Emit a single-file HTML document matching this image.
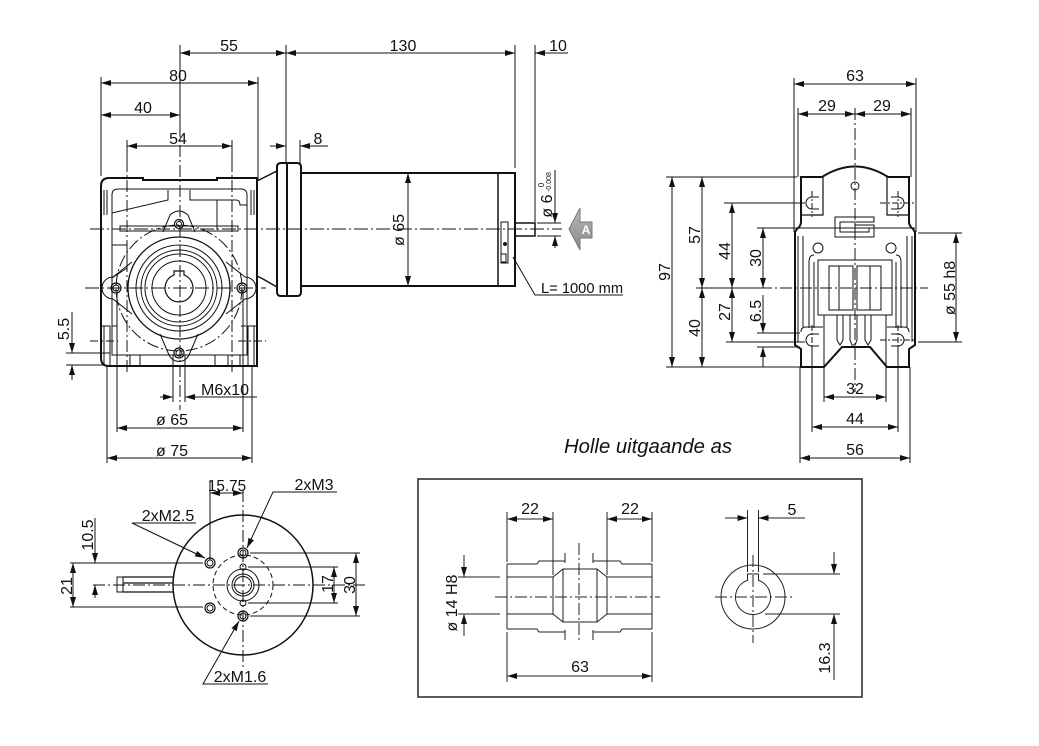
<!DOCTYPE html>
<html><head><meta charset="utf-8"><style>
html,body{margin:0;padding:0;background:#fff;}
svg{display:block;}
text{font-family:"Liberation Sans",Arial,sans-serif;fill:#111;}
</style></head><body>
<svg width="1039" height="746" viewBox="0 0 1039 746" xmlns="http://www.w3.org/2000/svg">
<defs>
<marker id="a" viewBox="0 0 10 6" refX="10" refY="3" markerWidth="10" markerHeight="6" markerUnits="userSpaceOnUse" orient="auto-start-reverse"><path d="M0,0L10,3L0,6z" fill="#111"/></marker>
<linearGradient id="g" x1="0" y1="0" x2="0" y2="1"><stop offset="0" stop-color="#b8b8b8"/><stop offset="1" stop-color="#8a8a8a"/></linearGradient>
</defs>
<rect width="1039" height="746" fill="#fff"/>

<!-- ========== MAIN VIEW ========== -->
<g stroke="#111" stroke-width="1" fill="none">
<line x1="180" y1="53" x2="286" y2="53" marker-start="url(#a)" marker-end="url(#a)"/>
<line x1="286" y1="53" x2="515" y2="53" marker-start="url(#a)" marker-end="url(#a)"/>
<line x1="568" y1="53" x2="535" y2="53" marker-end="url(#a)"/>
<line x1="101" y1="83" x2="258" y2="83" marker-start="url(#a)" marker-end="url(#a)"/>
<line x1="101" y1="115" x2="180" y2="115" marker-start="url(#a)" marker-end="url(#a)"/>
<line x1="127" y1="146" x2="232" y2="146" marker-start="url(#a)" marker-end="url(#a)"/>
<line x1="270" y1="146" x2="286" y2="146" marker-end="url(#a)"/>
<line x1="328" y1="146" x2="300" y2="146" marker-end="url(#a)"/>
<line x1="286" y1="45" x2="286" y2="163"/>
<line x1="515" y1="45" x2="515" y2="168"/>
<line x1="535" y1="45" x2="535" y2="222"/>
<line x1="101" y1="77" x2="101" y2="176"/>
<line x1="258" y1="77" x2="258" y2="180"/>
<line x1="300" y1="140" x2="300" y2="163"/>
<line x1="180" y1="45" x2="180" y2="125"/>
<line x1="180" y1="125" x2="180" y2="410" stroke-dasharray="12 3 2 3"/>
<line x1="127" y1="140" x2="127" y2="372" stroke-dasharray="12 3 2 3"/>
<line x1="232" y1="140" x2="232" y2="372" stroke-dasharray="12 3 2 3"/>
<line x1="127" y1="140" x2="127" y2="160"/>
<line x1="232" y1="140" x2="232" y2="160"/>
<line x1="90" y1="229" x2="562" y2="229" stroke-dasharray="14 3 2 3"/>
<line x1="85" y1="288" x2="266" y2="288" stroke-dasharray="14 3 2 3"/>
<line x1="90" y1="341" x2="118" y2="341" stroke-dasharray="8 3 2 3"/>
<line x1="238" y1="341" x2="266" y2="341" stroke-dasharray="8 3 2 3"/>
</g>
<g font-size="16" text-anchor="middle">
<text x="229" y="51">55</text>
<text x="403" y="51">130</text>
<text x="558" y="51">10</text>
<text x="178" y="81">80</text>
<text x="143" y="113">40</text>
<text x="178" y="144">54</text>
<text x="318" y="144">8</text>
</g>

<!-- gearbox body -->
<g stroke="#111" fill="none">
<path d="M101,186 Q101,178 109,178 L143,178 L143,180 L217,180 L217,178 L257,178 L257,366 L109,366 Q101,366 101,358 Z" stroke-width="2"/>
<path d="M112,195 Q112,189 118,189 L241,189 Q247,189 247,195 L247,355 L112,355 Z" stroke-width="1"/>
<path d="M112,213 L168,200 L168,190 M190,190 L190,200 L217,200 L217,230 M217,200 L236,200 Q240,200 240,205 L247,205" stroke-width="1"/>
<path d="M112,245 L127,245 L127,268 L112,278" stroke-width="1"/>
<rect x="120" y="226" width="118" height="5" stroke-width="1"/>
<path d="M163,232 L170,215 Q179,207 188,215 L195,232" stroke-width="1"/>
<path d="M101,326 L110,326 L110,366 M112,326 L117,326 M104,326 L104,366" stroke-width="1"/>
<path d="M257,326 L248,326 L248,366 M246,326 L241,326 M254,326 L254,366" stroke-width="1"/>
<path d="M117,355 L117,366 M130,355 L130,366 M140,355 L140,366 M215,355 L215,366 M228,355 L228,366 M240,355 L240,366" stroke-width="1"/>
<path d="M104,190 L104,215 M107,190 L107,215 M254,190 L254,215 M251,190 L251,215" stroke-width="1"/>
<circle cx="179" cy="288" r="63" stroke-width="1" stroke-dasharray="12 3 2 3"/>
<circle cx="179" cy="288" r="51" stroke-width="1.3"/>
<circle cx="179" cy="288" r="43" stroke-width="1"/>
<circle cx="179" cy="288" r="38" stroke-width="1"/>
<circle cx="179" cy="288" r="34" stroke-width="1"/>
<circle cx="179" cy="288" r="27" stroke-width="1"/>
<path d="M174,274.9 A14,14 0 1 0 184,274.9 L184,271 L174,271 Z" stroke-width="1.2"/>
<path d="M132,262 L113,277 A11,11 0 0 0 113,299 L132,314" stroke-width="1"/>
<path d="M226,262 L245,277 A11,11 0 0 1 245,299 L226,314" stroke-width="1"/>
<path d="M160,334 L169,355 A11,11 0 0 0 189,355 L198,334" stroke-width="1"/>
<circle cx="116" cy="288" r="5" stroke-width="1.2"/><circle cx="116" cy="288" r="3" stroke-width="1"/>
<circle cx="242" cy="288" r="5" stroke-width="1.2"/><circle cx="242" cy="288" r="3" stroke-width="1"/>
<circle cx="179" cy="353" r="5" stroke-width="1.2"/><circle cx="179" cy="353" r="3" stroke-width="1"/>
<circle cx="179" cy="224" r="4.5" stroke-width="1.2"/><circle cx="179" cy="224" r="2.5" stroke-width="1"/>
</g>

<!-- motor -->
<g stroke="#111" fill="none">
<path d="M257,181 L263,178 L277,171 L277,287 L263,279 L257,276" stroke-width="1.5"/>
<path d="M281,163 L297,163 Q301,163 301,167 L301,292 Q301,296 297,296 L281,296 Q277,296 277,292 L277,167 Q277,163 281,163 Z" stroke-width="2"/>
<line x1="287" y1="163" x2="287" y2="296" stroke-width="2"/>
<rect x="301" y="173" width="214" height="113" stroke-width="2"/>
<line x1="498" y1="173" x2="498" y2="286" stroke-width="1.5"/>
<rect x="515" y="223" width="20" height="13" stroke-width="1.5"/>
<rect x="501" y="222" width="7" height="41" stroke-width="1"/>
<rect x="501" y="254" width="5" height="8" stroke-width="1"/>
<line x1="408" y1="173" x2="408" y2="286" stroke-width="1" marker-start="url(#a)" marker-end="url(#a)"/>
<line x1="555" y1="170" x2="555" y2="223" stroke-width="1" marker-end="url(#a)"/>
<line x1="555" y1="248" x2="555" y2="236" stroke-width="1" marker-end="url(#a)"/>
<line x1="537" y1="223" x2="561" y2="223" stroke-width="1"/>
<line x1="537" y1="236" x2="561" y2="236" stroke-width="1"/>
<polyline points="513,257 535,295 623,295" stroke-width="1"/>
</g>
<circle cx="505" cy="244" r="2" fill="#111"/>
<path d="M569,229 L580,208 L580,222 L592,222 L592,238 L580,238 L580,250 Z" fill="url(#g)" stroke="#777" stroke-width="1"/>
<text x="586" y="234" font-size="12" font-weight="bold" text-anchor="middle" style="fill:#fff">A</text>
<text transform="translate(404,230) rotate(-90)" font-size="16" text-anchor="middle">ø 65</text>
<text transform="translate(552,206) rotate(-90)" font-size="16" text-anchor="middle">ø 6</text>
<text transform="translate(544,185) rotate(-90)" font-size="8" text-anchor="middle">0</text>
<text transform="translate(551,182) rotate(-90)" font-size="7" text-anchor="middle">-0.008</text>
<text x="541" y="293" font-size="14.7">L= 1000 mm</text>

<!-- main lower dims -->
<g stroke="#111" stroke-width="1" fill="none">
<line x1="72" y1="312" x2="72" y2="353" marker-end="url(#a)"/>
<line x1="72" y1="380" x2="72" y2="365" marker-end="url(#a)"/>
<line x1="66" y1="353" x2="110" y2="353"/>
<line x1="66" y1="365" x2="104" y2="365"/>
<line x1="160" y1="397" x2="173" y2="397" marker-end="url(#a)"/>
<line x1="257" y1="397" x2="185" y2="397" marker-end="url(#a)"/>
<line x1="173" y1="355" x2="173" y2="402"/>
<line x1="185" y1="355" x2="185" y2="402"/>
<line x1="117" y1="290" x2="117" y2="432"/>
<line x1="243" y1="290" x2="243" y2="432"/>
<line x1="107" y1="366" x2="107" y2="463"/>
<line x1="252" y1="366" x2="252" y2="463"/>
<line x1="117" y1="428" x2="243" y2="428" marker-start="url(#a)" marker-end="url(#a)"/>
<line x1="107" y1="458" x2="252" y2="458" marker-start="url(#a)" marker-end="url(#a)"/>
</g>
<text transform="translate(69,329) rotate(-90)" font-size="16" text-anchor="middle">5.5</text>
<text x="225" y="395" font-size="16" text-anchor="middle">M6x10</text>
<text x="172" y="425" font-size="16" text-anchor="middle">ø 65</text>
<text x="172" y="456" font-size="16" text-anchor="middle">ø 75</text>

<!-- ========== SIDE VIEW ========== -->
<g stroke="#111" stroke-width="1" fill="none">
<line x1="794" y1="84" x2="916" y2="84" marker-start="url(#a)" marker-end="url(#a)"/>
<line x1="798" y1="114" x2="855" y2="114" marker-start="url(#a)" marker-end="url(#a)"/>
<line x1="855" y1="114" x2="911" y2="114" marker-start="url(#a)" marker-end="url(#a)"/>
<line x1="794" y1="78" x2="794" y2="232"/>
<line x1="916" y1="78" x2="916" y2="232"/>
<line x1="798" y1="108" x2="798" y2="177"/>
<line x1="911" y1="108" x2="911" y2="177"/>
<line x1="855" y1="108" x2="855" y2="392" stroke-dasharray="12 3 2 3"/>
<line x1="672" y1="177" x2="672" y2="367" marker-start="url(#a)" marker-end="url(#a)"/>
<line x1="702" y1="177" x2="702" y2="288" marker-start="url(#a)" marker-end="url(#a)"/>
<line x1="702" y1="288" x2="702" y2="367" marker-start="url(#a)" marker-end="url(#a)"/>
<line x1="732" y1="203" x2="732" y2="288" marker-start="url(#a)" marker-end="url(#a)"/>
<line x1="732" y1="288" x2="732" y2="342" marker-start="url(#a)" marker-end="url(#a)"/>
<line x1="763" y1="228" x2="763" y2="288" marker-start="url(#a)" marker-end="url(#a)"/>
<line x1="763" y1="295" x2="763" y2="333" marker-end="url(#a)"/>
<line x1="763" y1="367" x2="763" y2="347" marker-end="url(#a)"/>
<line x1="956" y1="233" x2="956" y2="342" marker-start="url(#a)" marker-end="url(#a)"/>
<line x1="666" y1="177" x2="797" y2="177"/>
<line x1="724" y1="203" x2="805" y2="203"/>
<line x1="757" y1="228" x2="915" y2="228"/>
<line x1="918" y1="233" x2="962" y2="233"/>
<line x1="696" y1="288" x2="760" y2="288"/>
<line x1="760" y1="288" x2="928" y2="288" stroke-dasharray="12 3 2 3"/>
<line x1="726" y1="342" x2="805" y2="342"/>
<line x1="918" y1="342" x2="962" y2="342"/>
<line x1="757" y1="333" x2="800" y2="333"/>
<line x1="757" y1="347" x2="800" y2="347"/>
<line x1="666" y1="367" x2="800" y2="367"/>
<line x1="824" y1="367" x2="824" y2="402"/>
<line x1="886" y1="367" x2="886" y2="402"/>
<line x1="812" y1="345" x2="812" y2="432"/>
<line x1="898" y1="345" x2="898" y2="432"/>
<line x1="800" y1="367" x2="800" y2="463"/>
<line x1="910" y1="367" x2="910" y2="463"/>
<line x1="824" y1="397" x2="886" y2="397" marker-start="url(#a)" marker-end="url(#a)"/>
<line x1="812" y1="427" x2="898" y2="427" marker-start="url(#a)" marker-end="url(#a)"/>
<line x1="800" y1="458" x2="910" y2="458" marker-start="url(#a)" marker-end="url(#a)"/>
</g>
<g font-size="16" text-anchor="middle">
<text x="855" y="81">63</text>
<text x="827" y="111">29</text>
<text x="882" y="111">29</text>
<text x="855" y="394">32</text>
<text x="855" y="424">44</text>
<text x="855" y="455">56</text>
<text transform="translate(670,272) rotate(-90)">97</text>
<text transform="translate(700,235) rotate(-90)">57</text>
<text transform="translate(730,251) rotate(-90)">44</text>
<text transform="translate(761,258) rotate(-90)">30</text>
<text transform="translate(955,288) rotate(-90)">ø 55 h8</text>
<text transform="translate(700,328) rotate(-90)">40</text>
<text transform="translate(730,312) rotate(-90)">27</text>
<text transform="translate(761,311) rotate(-90)">6.5</text>
</g>

<!-- side view body -->
<g stroke="#111" fill="none">
<path d="M801,222 L801,177 L822,177 Q855,156 888,177 L909,177 L909,222 Q909,226 913,229 L915,232 L915,345 L909,349 L909,367 L887,367 L870,347 L842,347 L824,367 L801,367 L801,349 L795,345 L795,232 L797,229 Q801,226 801,222 Z" stroke-width="2"/>
<path d="M823,177 L823,215 L801,215 M887,177 L887,215 L909,215" stroke-width="1.2"/>
<path d="M798,236 L798,342 M912,236 L912,342 M803,236 L803,327 M907,236 L907,327" stroke-width="1"/>
<path d="M809,262 Q809,255 814,255 M809,262 L809,328 M814,262 L814,328 M901,262 Q901,255 896,255 M901,262 L901,328 M896,262 L896,328" stroke-width="1"/>
<rect x="818" y="260" width="74" height="55" stroke-width="1"/>
<rect x="829" y="266" width="24" height="44" stroke-width="1"/>
<rect x="857" y="266" width="24" height="44" stroke-width="1"/>
<line x1="839" y1="266" x2="839" y2="310"/><line x1="870" y1="266" x2="870" y2="310"/>
<path d="M824,315 L824,367 M886,315 L886,367" stroke-width="1"/>
<path d="M837,315 L837,340 L840,345 L843,340 L843,315 M850,315 L850,340 L852,345 L855,345 L857,340 L857,315 M865,315 L865,340 L868,345 L871,340 L871,315" stroke-width="1"/>
<path d="M801,332 Q801,327 806,327 L823,327 M909,332 Q909,327 904,327 L887,327" stroke-width="1"/>
<path d="M835,217 L874,217 L874,222 L840,222 L840,232 L869,232 L869,228 L855,228 L855,225 L874,225 L874,237 L835,237 Z" stroke-width="1"/>
<circle cx="855" cy="186" r="4" stroke-width="1"/>
<circle cx="818" cy="248" r="5" stroke-width="1"/>
<circle cx="891" cy="248" r="5" stroke-width="1"/>
<path d="M819,197 L812,197 A6,6 0 0 0 812,209 L819,209" stroke-width="1"/>
<path d="M891,197 L898,197 A6,6 0 0 1 898,209 L891,209" stroke-width="1"/>
<path d="M819,334 L812,334 A6,6 0 0 0 812,346 L819,346" stroke-width="1"/>
<path d="M891,334 L898,334 A6,6 0 0 1 898,346 L891,346" stroke-width="1"/>
<g stroke-width="1" stroke-dasharray="6 2 2 2">
<line x1="812" y1="191" x2="812" y2="217"/><line x1="898" y1="191" x2="898" y2="217"/>
<line x1="880" y1="203" x2="916" y2="203"/>
<line x1="812" y1="325" x2="812" y2="345"/><line x1="898" y1="325" x2="898" y2="345"/>
<line x1="880" y1="340" x2="916" y2="340"/>
</g>
</g>

<text x="564" y="453" font-size="20.3" font-style="italic">Holle uitgaande as</text>

<!-- ========== ENCODER END VIEW ========== -->
<g stroke="#111" fill="none">
<circle cx="243" cy="585" r="70" stroke-width="1.5"/>
<circle cx="243" cy="585" r="30" stroke-width="1" stroke-dasharray="5 3"/>
<circle cx="243" cy="585" r="16" stroke-width="1"/>
<circle cx="243" cy="585" r="11" stroke-width="1"/>
<circle cx="243" cy="585" r="8.5" stroke-width="1"/>
<circle cx="243" cy="553" r="5" stroke-width="1.2"/><circle cx="243" cy="553" r="3" stroke-width="1"/>
<circle cx="243" cy="616" r="5" stroke-width="1.2"/><circle cx="243" cy="616" r="3" stroke-width="1"/>
<circle cx="243" cy="567" r="3" stroke-width="1"/>
<circle cx="243" cy="603" r="3" stroke-width="1"/>
<circle cx="210" cy="563" r="5" stroke-width="1.2"/><circle cx="210" cy="563" r="3" stroke-width="1"/>
<circle cx="210" cy="608" r="5" stroke-width="1.2"/><circle cx="210" cy="608" r="3" stroke-width="1"/>
<path d="M123,577 L173,577 M123,583 L173,583 M123,592 L173,592" stroke-width="1.2"/>
<rect x="117" y="577" width="6" height="15" stroke-width="1"/>
<line x1="117" y1="585" x2="123" y2="585" stroke-width="1"/>
<g stroke-width="1">
<line x1="93" y1="585" x2="368" y2="585" stroke-dasharray="12 3 2 3"/>
<line x1="243" y1="490" x2="243" y2="668" stroke-dasharray="12 3 2 3"/>
<line x1="210" y1="480" x2="210" y2="560"/>
<line x1="210" y1="493" x2="243" y2="493" marker-start="url(#a)" marker-end="url(#a)"/>
<polyline points="337,492 273,492 247,548" marker-end="url(#a)"/>
<polyline points="196,523 132,523 205,558" marker-end="url(#a)"/>
<polyline points="268,684 203,684 239,621" marker-end="url(#a)"/>
<line x1="95" y1="518" x2="95" y2="563" marker-end="url(#a)"/>
<line x1="95" y1="598" x2="95" y2="585" marker-end="url(#a)"/>
<line x1="70" y1="563" x2="203" y2="563"/>
<line x1="70" y1="607" x2="203" y2="607"/>
<line x1="73" y1="563" x2="73" y2="607" marker-start="url(#a)" marker-end="url(#a)"/>
<line x1="250" y1="553" x2="360" y2="553"/>
<line x1="248" y1="567" x2="338" y2="567"/>
<line x1="248" y1="603" x2="338" y2="603"/>
<line x1="250" y1="616" x2="360" y2="616"/>
<line x1="334" y1="567" x2="334" y2="603" marker-start="url(#a)" marker-end="url(#a)"/>
<line x1="356" y1="553" x2="356" y2="616" marker-start="url(#a)" marker-end="url(#a)"/>
</g>
</g>
<g font-size="16" text-anchor="middle">
<text x="227" y="491" font-size="15.3">15.75</text>
<text x="314" y="490">2xM3</text>
<text x="168" y="521">2xM2.5</text>
<text x="240" y="682">2xM1.6</text>
<text transform="translate(93,535) rotate(-90)">10.5</text>
<text transform="translate(72,586) rotate(-90)">21</text>
<text transform="translate(333,584) rotate(-90)">17</text>
<text transform="translate(355,585) rotate(-90)">30</text>
</g>

<!-- ========== HOLLOW SHAFT BOX ========== -->
<rect x="418" y="479" width="444" height="218" fill="none" stroke="#333" stroke-width="1.6"/>
<g stroke="#222" fill="none" stroke-width="1">
<polyline points="507,564 537,564 539,561 565,561"/>
<line x1="565" y1="553" x2="565" y2="563"/>
<polyline points="652,564 622,564 620,561 593,561"/>
<line x1="593" y1="553" x2="593" y2="563"/>
<polyline points="507,629 537,629 539,632 565,632"/>
<line x1="565" y1="630" x2="565" y2="640"/>
<polyline points="652,629 622,629 620,632 593,632"/>
<line x1="593" y1="630" x2="593" y2="640"/>
<line x1="507" y1="564" x2="507" y2="629"/>
<line x1="652" y1="564" x2="652" y2="629"/>
<polyline points="507,577 553,577 563,569 597,569 607,577 652,577"/>
<polyline points="507,614 553,614 563,622 597,622 607,614 652,614"/>
<line x1="553" y1="577" x2="553" y2="614"/>
<line x1="563" y1="569" x2="563" y2="622"/>
<line x1="597" y1="569" x2="597" y2="622"/>
<line x1="607" y1="577" x2="607" y2="614"/>
<line x1="495" y1="597" x2="660" y2="597" stroke-dasharray="12 3 2 3"/>
<line x1="579" y1="543" x2="579" y2="643" stroke-dasharray="12 3 2 3"/>
<line x1="507" y1="512" x2="507" y2="562"/>
<line x1="553" y1="512" x2="553" y2="575"/>
<line x1="607" y1="512" x2="607" y2="575"/>
<line x1="652" y1="512" x2="652" y2="562"/>
<line x1="507" y1="519" x2="553" y2="519" marker-start="url(#a)" marker-end="url(#a)"/>
<line x1="607" y1="519" x2="652" y2="519" marker-start="url(#a)" marker-end="url(#a)"/>
<line x1="507" y1="632" x2="507" y2="682"/>
<line x1="652" y1="632" x2="652" y2="682"/>
<line x1="507" y1="676" x2="652" y2="676" marker-start="url(#a)" marker-end="url(#a)"/>
<line x1="458" y1="577" x2="500" y2="577"/>
<line x1="458" y1="614" x2="500" y2="614"/>
<line x1="464" y1="555" x2="464" y2="577" marker-end="url(#a)"/>
<line x1="464" y1="636" x2="464" y2="614" marker-end="url(#a)"/>
<circle cx="753" cy="597" r="32"/>
<path d="M747.5,580.4 A17.5,17.5 0 1 0 758.5,580.4 L758.5,574 L747.5,574 Z"/>
<line x1="715" y1="597" x2="793" y2="597" stroke-dasharray="12 3 2 3"/>
<line x1="753" y1="555" x2="753" y2="643" stroke-dasharray="12 3 2 3"/>
<line x1="747.5" y1="510" x2="747.5" y2="572"/>
<line x1="758.5" y1="510" x2="758.5" y2="572"/>
<line x1="725" y1="518" x2="747.5" y2="518" marker-end="url(#a)"/>
<line x1="805" y1="518" x2="758.5" y2="518" marker-end="url(#a)"/>
<line x1="763" y1="574" x2="840" y2="574"/>
<line x1="765" y1="614" x2="840" y2="614"/>
<line x1="834" y1="552" x2="834" y2="574" marker-end="url(#a)"/>
<line x1="834" y1="680" x2="834" y2="614" marker-end="url(#a)"/>
</g>
<g font-size="16" text-anchor="middle">
<text x="530" y="514">22</text>
<text x="630" y="514">22</text>
<text x="580" y="672">63</text>
<text x="792" y="515">5</text>
<text transform="translate(457,603) rotate(-90)">ø 14 H8</text>
<text transform="translate(830,658) rotate(-90)">16.3</text>
</g>
</svg>
</body></html>
